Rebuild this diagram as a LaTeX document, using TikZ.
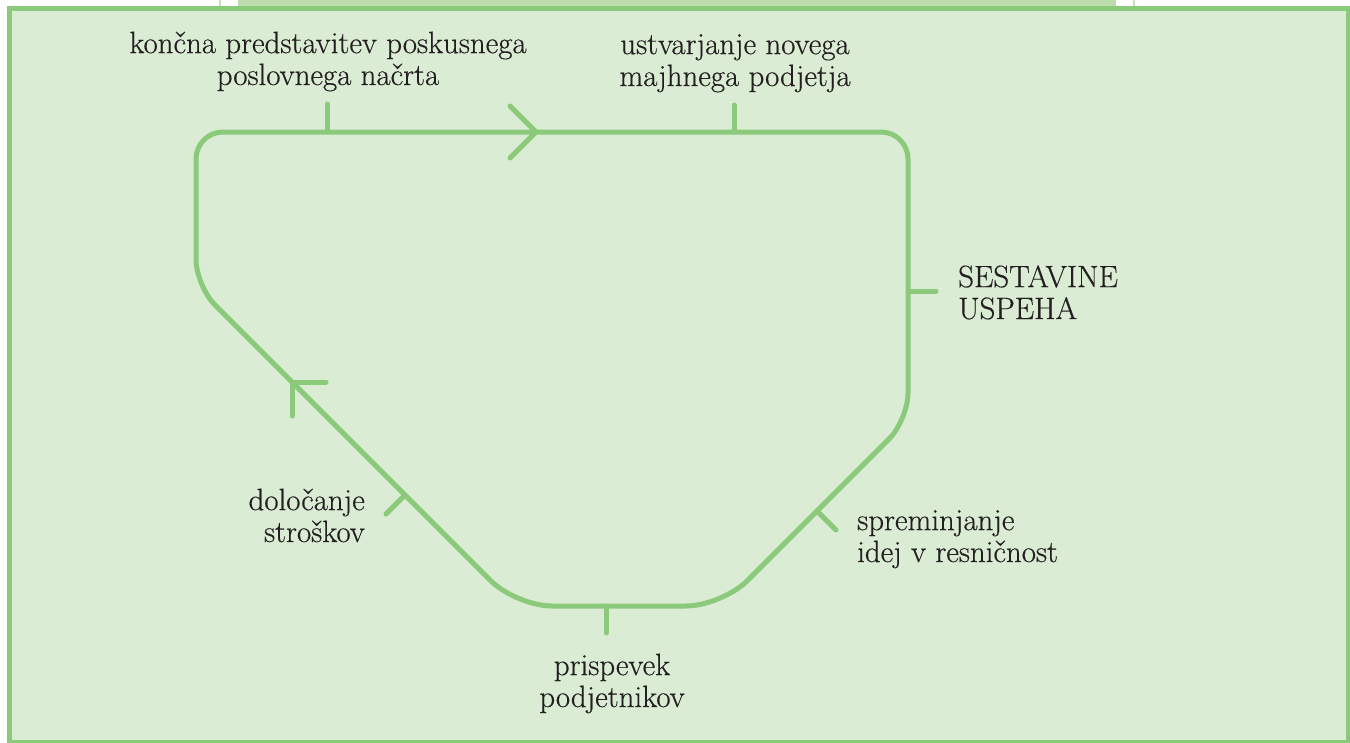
\documentclass[tikz,border=0pt]{standalone}
\usepackage{fontspec}
\newfontfamily\lblfont{Latin Modern Roman}[FakeBold=0.4]
\definecolor{lgreen}{RGB}{139,202,122}
\definecolor{bgfill}{RGB}{219,236,212}
\definecolor{topbar}{RGB}{189,221,174}
\definecolor{thinl}{RGB}{200,224,190}
\definecolor{tcol}{RGB}{35,31,32}
\begin{document}
\begin{tikzpicture}[x=1bp,y=-1bp,
  loopline/.style={draw=lgreen,line width=5bp,line cap=round,line join=round},
  lbl/.style={inner sep=0pt,text=tcol,font=\lblfont\fontsize{31}{32}\selectfont}]
\fill[white] (0,0) rectangle (1350,742);
\useasboundingbox (0,0) rectangle (1350,742);
\fill[topbar] (238,0) rectangle (1116,8);
\draw[thinl,line width=2bp] (219.5,0) -- (219.5,8);
\draw[thinl,line width=2bp] (1133.5,0) -- (1133.5,8);
\draw[draw=lgreen,fill=bgfill,line width=5bp] (9.5,8.3) rectangle (1348.5,742.5);

% corners of the loop
\coordinate (s) at (536,132);
\coordinate (tr) at (908,132);
\coordinate (r) at (908,420);
\coordinate (br) at (722,606);
\coordinate (bl) at (516,606);
\coordinate (l) at (196,286);
\coordinate (tl) at (196,132);
\draw[loopline] (s) [rounded corners=27bp] -- (tr) -- (r) [rounded corners=36bp] -- (br) -- (bl) [rounded corners=27bp] -- (l) -- (tl) -- cycle;

% ticks
\coordinate (t1a) at (327,132); \coordinate (t1b) at (327,104);
\coordinate (t2a) at (734,132); \coordinate (t2b) at (734,105);
\coordinate (t3a) at (908,291); \coordinate (t3b) at (936,291);
\coordinate (t4a) at (817,511); \coordinate (t4b) at (836,530);
\coordinate (t5a) at (405,495); \coordinate (t5b) at (386,514);
\coordinate (t6a) at (606,606); \coordinate (t6b) at (606,633);
\foreach \a/\b in {t1a/t1b,t2a/t2b,t3a/t3b,t4a/t4b,t5a/t5b,t6a/t6b}
  \draw[loopline] (\a) -- (\b);

% arrows
\coordinate (a1) at (536,132); \coordinate (a1u) at (510,106); \coordinate (a1d) at (510,158);
\draw[loopline] (a1u) -- (a1) -- (a1d);
\coordinate (a2) at (292,382); \coordinate (a2r) at (326,382); \coordinate (a2d) at (292,416);
\draw[loopline] (a2r) -- (a2) -- (a2d);

% labels (anchor = baseline of the last line)
\node[lbl,align=center,anchor=base] (n1) at (328,85) {končna predstavitev poskusnega\\poslovnega načrta};
\node[lbl,align=center,anchor=base] (n2) at (735,86) {ustvarjanje novega\\majhnega podjetja};
\node[lbl,align=left,anchor=base west] (n3) at (958,319) {SESTAVINE\\USPEHA};
\node[lbl,align=left,anchor=base west] (n4) at (857,562) {spreminjanje\\idej v resničnost};
\node[lbl,align=right,anchor=base east] (n5) at (365,542) {določanje\\stroškov};
\node[lbl,align=center,anchor=base] (n6) at (612,707) {prispevek\\podjetnikov};
\end{tikzpicture}
\end{document}
